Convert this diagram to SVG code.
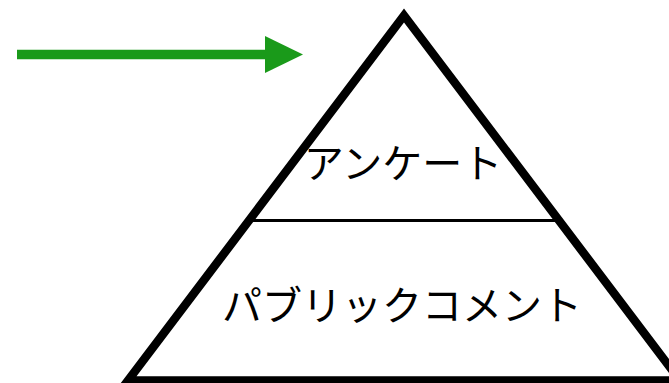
<svg xmlns="http://www.w3.org/2000/svg" width="669" height="383" viewBox="0 0 669 383">
  <style>
    .shape { fill: #ffffff; stroke: #000000; stroke-width: 8.5; stroke-linejoin: miter; stroke-miterlimit: 10; }
    .divider { stroke: #000000; stroke-width: 3; fill: none; }
    .label { font-family: "Noto Sans CJK JP", "Noto Sans", sans-serif; font-size: 40px; fill: #000000; text-anchor: middle; }
    .conn { stroke: #1a9a1a; stroke-width: 9.5; fill: none; }
  </style>
  <defs>
    <marker id="arrowhead" markerUnits="userSpaceOnUse" markerWidth="40" markerHeight="40" refX="0" refY="18.5" orient="auto" viewBox="0 0 40 40">
      <path d="M0,0 L38,18.5 L0,37 Z" fill="#1a9a1a"/>
    </marker>
  </defs>
  <rect width="669" height="383" fill="#ffffff"/>
  <g id="pyramid">
    <polygon class="shape" points="404,15.5 128,380.5 680,380.5"/>
    <line class="divider" x1="249" y1="220.5" x2="559" y2="220.5"/>
  </g>
  <g id="node-survey">
    <text class="label" x="403" y="178">アンケート</text>
  </g>
  <g id="node-public-comment">
    <text class="label" x="402" y="319.5">パブリックコメント</text>
  </g>
  <g id="connectors">
    <line class="conn" x1="17" y1="54.5" x2="265" y2="54.5" marker-end="url(#arrowhead)"/>
  </g>
</svg>
